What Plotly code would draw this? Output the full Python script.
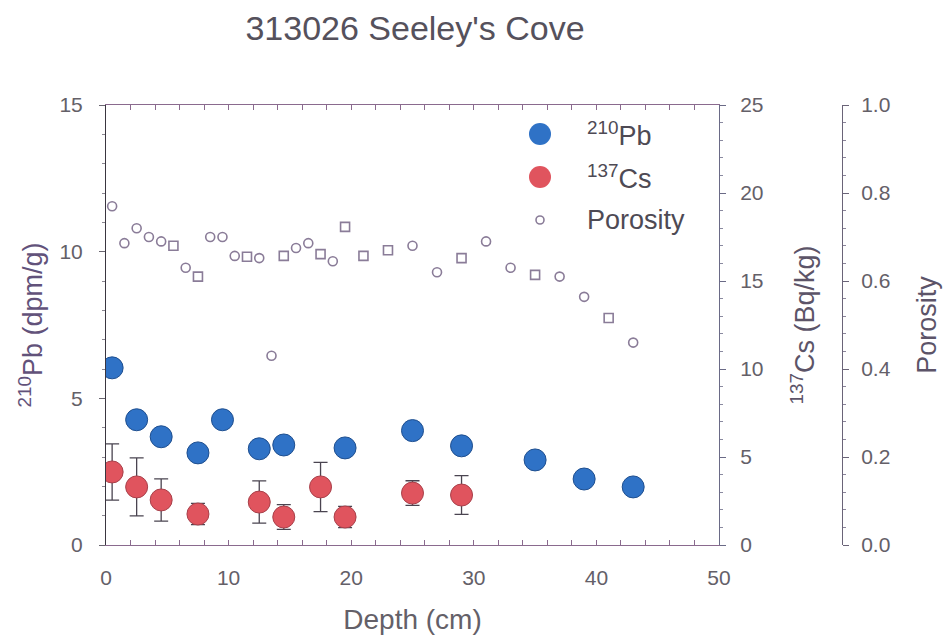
import plotly.graph_objects as go

# Core 313026, Seeley's Cove: activity and porosity profiles vs depth
pb_depth = [0.5, 2.5, 4.5, 7.5, 9.5, 12.5, 14.5, 19.5, 25, 29, 35, 39, 43]
pb_activity = [6.04, 4.27, 3.69, 3.14, 4.27, 3.28, 3.41, 3.31, 3.9, 3.38, 2.9, 2.25, 1.98]  # dpm/g

cs_depth = [0.5, 2.5, 4.5, 7.5, 12.5, 14.5, 17.5, 19.5, 25, 29]
cs_activity = [4.15, 3.3, 2.56, 1.76, 2.44, 1.59, 3.3, 1.59, 2.95, 2.84]  # Bq/kg
cs_error = [1.6, 1.65, 1.2, 0.6, 1.2, 0.7, 1.4, 0.6, 0.7, 1.1]

poro_depth = [0.5, 1.5, 2.5, 3.5, 4.5, 5.5, 6.5, 7.5, 8.5, 9.5, 10.5, 11.5, 12.5, 13.5,
              14.5, 15.5, 16.5, 17.5, 18.5, 19.5, 21, 23, 25, 27, 29, 31, 33, 35, 37,
              39, 41, 43]
porosity = [0.77, 0.686, 0.72, 0.70, 0.69, 0.68, 0.63, 0.61, 0.70, 0.70, 0.657, 0.655,
            0.652, 0.43, 0.657, 0.675, 0.686, 0.661, 0.645, 0.723, 0.657, 0.67, 0.68,
            0.62, 0.652, 0.69, 0.63, 0.614, 0.61, 0.564, 0.516, 0.46]

# plotting symbol for each porosity sample (two measurement runs)
poro_run_square = {5.5, 7.5, 11.5, 14.5, 17.5, 19.5, 21, 23, 29, 35, 41}
poro_symbols = ["square-open" if d in poro_run_square else "circle-open" for d in poro_depth]

BLUE = "#2f72c6"
RED = "#e0545e"
PORO = "#8a7c98"
FONT = "Liberation Sans, Arial, sans-serif"
TXT = "#646068"

W, H = 943, 640
ML, MR, MT, MB = 106, 0, 105, 95
plot_w = W - ML - MR
x_end = (719 - ML) / plot_w
poro_pos = (842 - ML) / plot_w

fig = go.Figure()

fig.add_trace(go.Scatter(
    x=pb_depth, y=pb_activity, mode="markers", name="<sup>210</sup>Pb",
    marker=dict(size=22, color=BLUE, line=dict(color="#1f4f8f", width=1)),
    yaxis="y", showlegend=False))

fig.add_trace(go.Scatter(
    x=cs_depth, y=cs_activity, mode="markers", name="<sup>137</sup>Cs",
    marker=dict(size=22, color=RED, line=dict(color="#a8404a", width=1)),
    error_y=dict(type="data", array=cs_error, visible=True, color="#4a4450",
                 thickness=1.3, width=7),
    yaxis="y2", showlegend=False))

fig.add_trace(go.Scatter(
    x=poro_depth, y=porosity, mode="markers", name="Porosity",
    marker=dict(size=9, symbol=poro_symbols, color=PORO, line=dict(color=PORO, width=1.6)),
    yaxis="y3", showlegend=False))

# Legend drawn by hand so the sample symbols keep their plotted size
legend_items = [("<sup>210</sup>Pb", BLUE, 22, "circle"),
                ("<sup>137</sup>Cs", RED, 22, "circle"),
                ("Porosity", PORO, 8, "open")]
shapes = []
annotations = []
for i, (label, color, size, kind) in enumerate(legend_items):
    cy = 1 - (134 + 43 * i - MT) / (H - MT - MB)
    cx = (540 - ML) / plot_w
    r = size / 2
    shapes.append(dict(
        type="circle", xref="paper", yref="paper", xsizemode="pixel", ysizemode="pixel",
        xanchor=cx, yanchor=cy, x0=-r, x1=r, y0=-r, y1=r,
        fillcolor=color if kind == "circle" else "white",
        line=dict(color=color, width=1.6 if kind == "open" else 0)))
    annotations.append(dict(
        text=label, xref="paper", yref="paper", x=(585 - ML) / plot_w, y=cy,
        xanchor="left", yanchor="middle", showarrow=False,
        font=dict(family=FONT, size=27, color="#4e4a54")))

axis_common = dict(showgrid=False, zeroline=False, showline=True,
                   tickfont=dict(family=FONT, size=21, color=TXT),
                   ticks="outside", ticklen=6, tickwidth=1)

fig.update_layout(
    width=W, height=H,
    margin=dict(l=ML, r=MR, t=MT, b=MB, autoexpand=False),
    paper_bgcolor="white", plot_bgcolor="white",
    showlegend=False,
    title=dict(text="313026 Seeley's Cove", x=415 / W, xanchor="center",
               y=1 - 28 / H, yanchor="middle", xref="container", yref="container",
               font=dict(family=FONT, size=34, color="#55515c")),
    xaxis=dict(**{**axis_common, "ticks": "inside", "ticklen": 5},
               domain=[0, x_end], range=[0, 50], dtick=10,
               linecolor="#8a6a8e", mirror="allticks",
               minor=dict(dtick=2, ticks="inside", ticklen=3, tickcolor="#8a6a8e"),
               tickcolor="#8a6a8e", ticklabelstandoff=14,
               title=dict(text="Depth (cm)", standoff=21,
                          font=dict(family=FONT, size=28, color=TXT))),
    yaxis=dict(**axis_common, range=[0, 15], dtick=5, linecolor="#3a3640",
               tickcolor="#6a6670", ticklabelstandoff=12,
               minor=dict(dtick=1, ticks="outside", ticklen=3, tickcolor="#8a8690"),
               title=dict(text="<sup>210</sup>Pb (dpm/g)", standoff=8,
                          font=dict(family=FONT, size=27, color="#62527a"))),
    yaxis2=dict(**axis_common, overlaying="y", side="right", anchor="x",
                range=[0, 25], dtick=5, linecolor="#6a6a86", tickcolor="#6a6a86",
                ticklabelstandoff=10,
                minor=dict(dtick=1, ticks="outside", ticklen=3, tickcolor="#8a8aa0"),
                title=dict(text="<sup>137</sup>Cs (Bq/kg)", standoff=32,
                           font=dict(family=FONT, size=27, color="#5c5468"))),
    yaxis3=dict(**axis_common, overlaying="y", side="right", anchor="free",
                position=poro_pos, range=[0, 1], dtick=0.2, tickformat=".1f",
                linecolor="#6a6478", tickcolor="#6a6478", ticklabelstandoff=8,
                minor=dict(dtick=0.04, ticks="outside", ticklen=3, tickcolor="#8a849a"),
                title=dict(text="Porosity", standoff=27,
                           font=dict(family=FONT, size=27, color="#5c5468"))),
    shapes=shapes,
    annotations=annotations,
)

fig.write_html("out.html")
